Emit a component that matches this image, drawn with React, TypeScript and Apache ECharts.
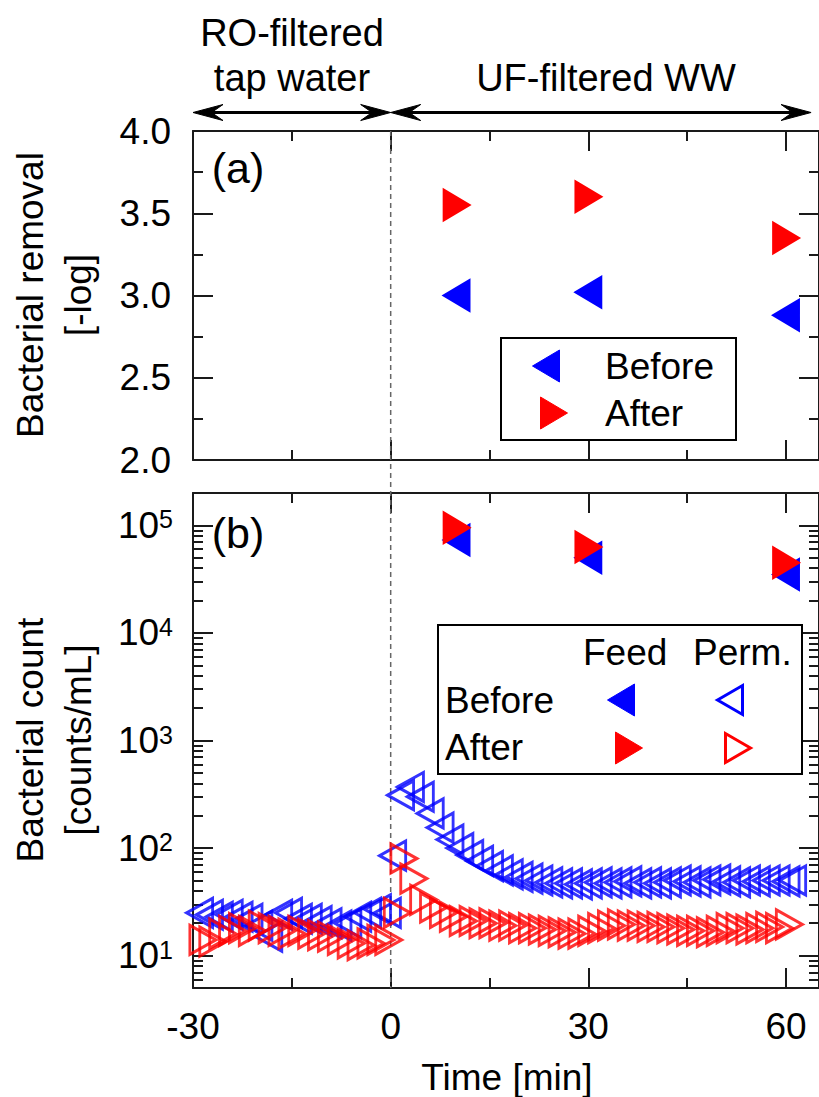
import React, { useEffect, useRef } from 'react';
import * as echarts from 'echarts';

const FONT = "'Liberation Sans', Arial, Helvetica, sans-serif";
const BLUE = '#0000ff';
const RED = '#ff0000';
const INK = '#1a1a1a';

// ---- axes ----
const X_MIN = -30;
const X_MAX = 65;
const X_MAJOR = [-30, 0, 30, 60];
const X_MINOR = [-15, 15, 45];

const REMOVAL_MIN = 2;
const REMOVAL_MAX = 4;
const REMOVAL_MAJOR = [2.0, 2.5, 3.0, 3.5, 4.0];
const REMOVAL_MINOR = [2.25, 2.75, 3.25, 3.75];

const COUNT_MIN = 5;
const COUNT_MAX = 2e5;
const COUNT_MAJOR = [10, 100, 1000, 10000, 100000];
const COUNT_MINOR = [
  6, 7, 8, 9,
  20, 30, 40, 50, 60, 70, 80, 90,
  200, 300, 400, 500, 600, 700, 800, 900,
  2000, 3000, 4000, 5000, 6000, 7000, 8000, 9000,
  20000, 30000, 40000, 50000, 60000, 70000, 80000, 90000,
  200000,
];

// ---- panel (a): bacterial removal [-log] ----
const removalTime = [10, 30, 60];
const removalBefore = [3.0, 3.02, 2.88];
const removalAfter = [3.55, 3.6, 3.35];

// ---- panel (b): feed counts ----
const feedTime = [10, 30, 60];
const feedBefore = [73000, 50000, 35000];
const feedAfter = [95000, 63000, 45000];

// ---- panel (b): permeate counts, "Before" ----
const permBeforeTime = [
  -29, -27.5, -26, -24.5, -23, -21.5, -20, -18.5, -17, -15.5,
  -14, -12.5, -11, -9.5, -8, -6.5, -5, -3.5, -2, -0.5,
  0.3, 1.5, 3, 4.5, 6, 7.5, 9, 10.5, 12, 13.5,
  15, 16.5, 18, 19.5, 21, 22.5, 24, 25.5, 27, 28.5,
  30, 31.5, 33, 34.5, 36, 37.5, 39, 40.5, 42, 43.5,
  45, 46.5, 48, 49.5, 51, 52.5, 54, 55.5, 57, 58.5,
  60, 61,
];
const permBeforeCount = [
  25, 24, 23, 24, 23, 22, 19, 15, 24, 25,
  22, 22, 21, 20, 19, 20, 23, 25, 27, 25,
  85, 310, 370, 300, 210, 155, 120, 100, 86, 76,
  68, 62, 57, 54, 52, 50, 48, 47, 47, 46,
  47, 48, 47, 48, 49, 47, 48, 47, 48, 50,
  49, 48, 50, 51, 49, 48, 50, 49, 50, 50,
  49, 50,
];

// ---- panel (b): permeate counts, "After" ----
const permAfterTime = [
  -28.5, -27, -25.5, -24, -22.5, -21, -19.5, -18, -16.5, -15,
  -13.5, -12, -10.5, -9, -7.5, -6, -4.5, -3, -1.5, -0.3,
  1, 2, 3.5, 5, 6.5, 8, 9.5, 11, 12.5, 14,
  15.5, 17, 18.5, 20, 21.5, 23, 24.5, 26, 27.5, 29,
  30.5, 32, 33.5, 35, 36.5, 38, 39.5, 41, 42.5, 44,
  45.5, 47, 48.5, 50, 51.5, 53, 54.5, 56, 57.5, 59,
  60.5,
];
const permAfterCount = [
  14, 13.5, 16, 17, 18, 17, 19, 18, 17, 16,
  17, 16, 15.5, 15, 14, 13, 12.5, 13, 14, 14,
  25, 80, 52, 33, 28, 25, 23, 21, 21, 20,
  20, 19, 19, 18, 18, 17.5, 17, 16.5, 16, 16,
  17, 18, 19, 19.5, 19, 19, 18.5, 18.5, 18, 17.5,
  17, 17, 16.5, 17, 18, 18, 17.5, 18, 18.5, 18,
  19.5,
];

const lg = (v: number) => Math.log10(v);
const zip = (xs: number[], ys: number[], f = (v: number) => v) => xs.map((x, i) => [x, f(ys[i])]);

const lineStyle = { color: INK, width: 2 };

function axisSet(
  kind: 'x' | 'y',
  gridIndex: number,
  min: number,
  max: number,
  major: number[],
  minor: number[],
  label: any,
) {
  const posA = kind === 'x' ? 'bottom' : 'left';
  const posB = kind === 'x' ? 'top' : 'right';
  const mk = (position: string, values: number[], length: number, showLine: boolean, lab: any) => ({
    type: 'value',
    gridIndex,
    min,
    max,
    position,
    splitLine: { show: false },
    axisPointer: { show: false },
    axisLine: { show: showLine, onZero: false, lineStyle },
    axisTick: { show: true, inside: true, length, customValues: values, lineStyle },
    minorTick: { show: false },
    axisLabel: lab ? lab : { show: false },
  });
  return [
    mk(posA, major, 20, true, label),
    mk(posA, minor, 10, false, null),
    mk(posB, major, 20, true, null),
    mk(posB, minor, 10, false, null),
  ];
}

const tickFont = { fontSize: 37, fontFamily: FONT, color: '#000' };

function tri(cx: number, cy: number, dir: 'l' | 'r', w: number, h: number) {
  if (dir === 'l') return [[cx - w / 2, cy], [cx + w / 2, cy - h / 2], [cx + w / 2, cy + h / 2]];
  return [[cx + w / 2, cy], [cx - w / 2, cy - h / 2], [cx - w / 2, cy + h / 2]];
}

function arrowHead(xt: number, y: number, dir: 1 | -1) {
  const L = 30;
  const H = 8;
  return [
    [xt, y],
    [xt - dir * L, y - H],
    [xt - dir * L * 0.62, y],
    [xt - dir * L, y + H],
  ];
}

export default function App() {
  const ref = useRef<HTMLDivElement>(null);
  useEffect(() => {
    if (!ref.current) return;
    const chart = echarts.init(ref.current, null, { renderer: 'svg' });

    const filled = (color: string, rot: number) => ({
      symbol: 'triangle',
      symbolSize: [31, 26],
      symbolRotate: rot,
      itemStyle: { color, borderColor: color, borderWidth: 2, opacity: 1 },
    });
    const open = (color: string, rot: number) => ({
      symbol: 'triangle',
      symbolSize: [29, 26],
      symbolRotate: rot,
      itemStyle: { color: 'rgba(255,255,255,0)', borderColor: color, borderWidth: 3, borderJoin: 'miter' },
    });

    const option: any = {
      animation: false,
      backgroundColor: '#fff',
      grid: [
        { left: 193, top: 131, width: 632, height: 329 },
        { left: 193, top: 493, width: 632, height: 495 },
      ],
      xAxis: [
        ...axisSet('x', 0, X_MIN, X_MAX, X_MAJOR, X_MINOR, null),
        ...axisSet('x', 1, X_MIN, X_MAX, X_MAJOR, X_MINOR, {
          show: true,
          customValues: X_MAJOR,
          margin: 20,
          ...tickFont,
        }),
      ],
      yAxis: [
        ...axisSet('y', 0, REMOVAL_MIN, REMOVAL_MAX, REMOVAL_MAJOR, REMOVAL_MINOR, {
          show: true,
          customValues: REMOVAL_MAJOR,
          margin: 22,
          formatter: (v: number) => v.toFixed(1),
          ...tickFont,
        }),
        ...axisSet('y', 1, lg(COUNT_MIN), lg(COUNT_MAX), COUNT_MAJOR.map(lg), COUNT_MINOR.map(lg), {
          show: true,
          customValues: COUNT_MAJOR.map(lg),
          margin: 20,
          formatter: (v: number) => `{b|10}{s|${Math.round(v)}}`,
          rich: {
            b: { fontSize: 37, fontFamily: FONT, color: '#000' },
            s: { fontSize: 25, fontFamily: FONT, color: '#000', verticalAlign: 'top' },
          },
          ...tickFont,
        }),
      ],
      series: [
        {
          type: 'scatter', name: 'removal-before', xAxisIndex: 0, yAxisIndex: 0, silent: true,
          data: zip(removalTime, removalBefore), ...filled(BLUE, 90),
        },
        {
          type: 'scatter', name: 'removal-after', xAxisIndex: 0, yAxisIndex: 0, silent: true,
          data: zip(removalTime, removalAfter), ...filled(RED, -90),
        },
        {
          type: 'scatter', name: 'perm-before', xAxisIndex: 4, yAxisIndex: 4, silent: true,
          data: zip(permBeforeTime, permBeforeCount, lg), ...open(BLUE, 90),
        },
        {
          type: 'scatter', name: 'perm-after', xAxisIndex: 4, yAxisIndex: 4, silent: true,
          data: zip(permAfterTime, permAfterCount, lg), ...open(RED, -90),
        },
        {
          type: 'scatter', name: 'feed-before', xAxisIndex: 4, yAxisIndex: 4, silent: true,
          data: zip(feedTime, feedBefore, lg), ...filled(BLUE, 90),
        },
        {
          type: 'scatter', name: 'feed-after', xAxisIndex: 4, yAxisIndex: 4, silent: true,
          data: zip(feedTime, feedAfter, lg), ...filled(RED, -90),
        },
      ],
    };
    chart.setOption(option);

    const x0 = chart.convertToPixel({ xAxisIndex: 0 }, 0) as number;
    const xL = chart.convertToPixel({ xAxisIndex: 0 }, X_MIN) as number;
    const xR = chart.convertToPixel({ xAxisIndex: 0 }, 63.8) as number;
    const yTop = chart.convertToPixel({ yAxisIndex: 0 }, REMOVAL_MAX) as number;
    const yBot = chart.convertToPixel({ yAxisIndex: 4 }, lg(COUNT_MIN)) as number;
    const yArrow = 112.5;

    const txt = (text: string, x: number, y: number, size: number, align = 'center', rotation = 0) => ({
      type: 'text',
      x,
      y,
      rotation,
      z: 100,
      style: { text, fontSize: size, fontFamily: FONT, fill: '#000', align, verticalAlign: 'middle' },
    });
    const poly = (points: number[][], fill: string, stroke: string, lw: number) => ({
      type: 'polygon',
      z: 101,
      shape: { points },
      style: { fill, stroke, lineWidth: lw, lineJoin: 'miter' },
    });

    const graphic: any[] = [
      // dashed divider at t = 0
      {
        type: 'line', z: 1,
        shape: { x1: x0, y1: yTop, x2: x0, y2: yBot },
        style: { stroke: '#666', lineWidth: 1.5, lineDash: [5, 4] },
      },
      // arrows
      { type: 'line', z: 100, shape: { x1: xL + 10, y1: yArrow, x2: x0 - 10, y2: yArrow }, style: { stroke: '#000', lineWidth: 3 } },
      { type: 'line', z: 100, shape: { x1: x0 + 10, y1: yArrow, x2: xR - 10, y2: yArrow }, style: { stroke: '#000', lineWidth: 3 } },
      poly(arrowHead(xL, yArrow, -1), '#000', '#000', 1),
      poly(arrowHead(x0, yArrow, 1), '#000', '#000', 1),
      poly(arrowHead(x0, yArrow, -1), '#000', '#000', 1),
      poly(arrowHead(xR, yArrow, 1), '#000', '#000', 1),
      txt('RO-filtered', 292, 33, 38),
      txt('tap water', 292, 78, 38),
      txt('UF-filtered WW', 606, 78, 38),
      // panel tags
      txt('(a)', 238, 168, 43),
      txt('(b)', 238, 533, 43),
      // axis titles
      txt('Bacterial removal', 30, 295, 37, 'center', Math.PI / 2),
      txt('[-log]', 78, 295, 37, 'center', Math.PI / 2),
      txt('Bacterial count', 30, 740, 37, 'center', Math.PI / 2),
      txt('[counts/mL]', 78, 740, 37, 'center', Math.PI / 2),
      txt('Time [min]', 507, 1077, 37),
      // legend (a)
      {
        type: 'rect', z: 99,
        shape: { x: 501, y: 338, width: 235, height: 102 },
        style: { fill: '#fff', stroke: '#000', lineWidth: 2 },
      },
      poly(tri(546, 366, 'l', 27, 32), BLUE, BLUE, 1),
      poly(tri(554, 413, 'r', 27, 32), RED, RED, 1),
      txt('Before', 605, 366, 37, 'left'),
      txt('After', 605, 413, 37, 'left'),
      // legend (b)
      {
        type: 'rect', z: 99,
        shape: { x: 438, y: 625, width: 364, height: 149 },
        style: { fill: '#fff', stroke: '#000', lineWidth: 2 },
      },
      txt('Feed', 583, 652, 37, 'left'),
      txt('Perm.', 693, 652, 37, 'left'),
      txt('Before', 445, 700, 37, 'left'),
      txt('After', 445, 747, 37, 'left'),
      poly(tri(621, 700, 'l', 27, 32), BLUE, BLUE, 1),
      poly(tri(730, 700, 'l', 25, 29), 'none', BLUE, 3),
      poly(tri(629, 748, 'r', 27, 32), RED, RED, 1),
      poly(tri(738, 748, 'r', 25, 29), 'none', RED, 3),
    ];
    chart.setOption({ graphic });

    return () => chart.dispose();
  }, []);

  return (
    <div
      ref={ref}
      style={{ position: 'absolute', left: 0, top: 0, width: 819, height: 1097, overflow: 'hidden' }}
    />
  );
}
